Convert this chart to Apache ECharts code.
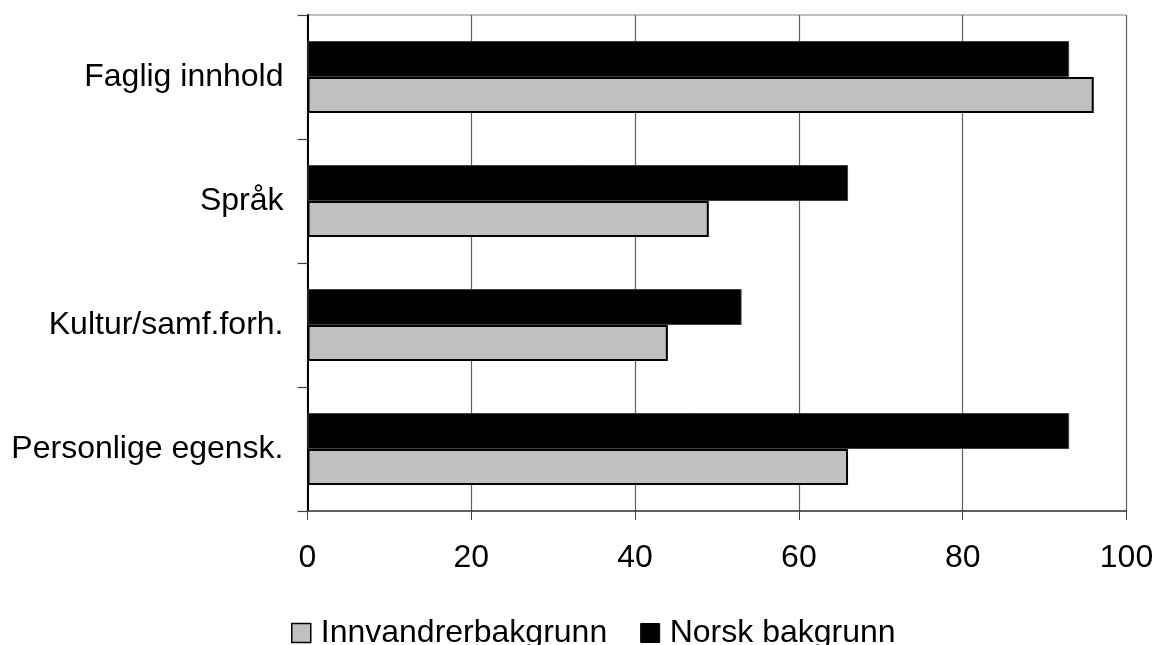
<!DOCTYPE html>
<html>
<head>
<meta charset="utf-8">
<script src="https://cdn.jsdelivr.net/npm/echarts@6/dist/echarts.min.js"></script>
<style>
html,body{margin:0;padding:0;background:#fff;}
#chart{width:1157px;height:645px;}
</style>
</head>
<body>
<div id="chart"></div>
<script>
// Categories listed bottom-to-top
const categories = ['Personlige egensk.', 'Kultur/samf.forh.', 'Språk', 'Faglig innhold'];
const innvandrer = [66, 44, 49, 96];
const norsk = [93, 53, 66, 93];
const xTicks = [0, 20, 40, 60, 80, 100];

const chart = echarts.init(document.getElementById('chart'), null, {renderer: 'canvas'});
const font = '"Liberation Sans", Arial, sans-serif';
chart.setOption({
  animation: false,
  backgroundColor: '#ffffff',
  grid: {left: 307.5, right: 30.5, top: 15, bottom: 134, show: true, borderColor: '#808080', borderWidth: 1},
  legend: {
    top: 612, left: 286,
    itemWidth: 19, itemHeight: 19, itemGap: 33,
    textStyle: {fontFamily: font, fontSize: 32, color: '#000', padding: [0,0,0,5]},
    data: [
      {name: 'Innvandrerbakgrunn', icon: 'rect', itemStyle: {color: '#c0c0c0', borderColor: '#000', borderWidth: 1.5}},
      {name: 'Norsk bakgrunn', icon: 'rect', itemStyle: {color: '#000', borderColor: '#000', borderWidth: 1}}
    ]
  },
  xAxis: {
    type: 'value', min: xTicks[0], max: xTicks[xTicks.length-1], interval: 20,
    axisLine: {show: true, lineStyle: {color: '#404040', width: 1.5}},
    axisTick: {show: true, length: 9, lineStyle: {color: '#404040'}},
    splitLine: {show: true, lineStyle: {color: '#606060', width: 1.2}},
    axisLabel: {fontFamily: font, fontSize: 32, color: '#000', margin: 31}
  },
  yAxis: {
    type: 'category', data: categories,
    axisLine: {show: true, onZero: false, lineStyle: {color: '#000', width: 2}},
    axisTick: {show: true, length: 10, inside: false, lineStyle: {color: '#404040', width: 1.2}},
    axisLabel: {fontFamily: font, fontSize: 32, color: '#000', margin: 24}
  },
  series: [
    {name: 'Norsk bakgrunn', type: 'bar', data: norsk, barWidth: 36, barGap: '0%',
     itemStyle: {color: '#000', borderColor: '#404040', borderWidth: 1}},
    {name: 'Innvandrerbakgrunn', type: 'bar', data: innvandrer, barWidth: 36, barGap: '0%',
     itemStyle: {color: '#c0c0c0', borderColor: '#000', borderWidth: 2}}
  ]
});
</script>
</body>
</html>
